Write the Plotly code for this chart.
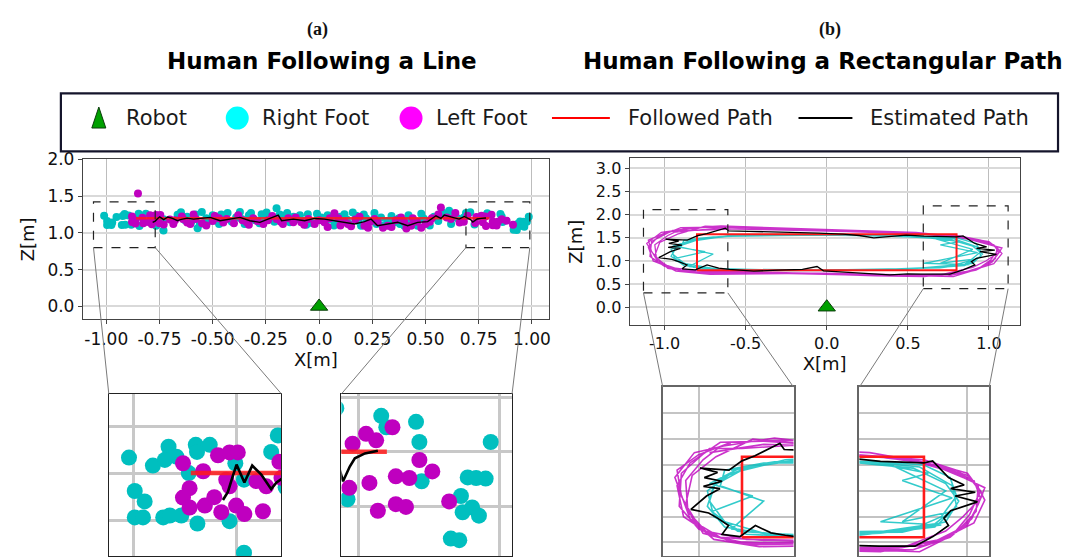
import plotly.graph_objects as go

W, H = 1075, 557

# ---------------- Panel (a): human following a line ----------------
a_right_x = [-1.01, -0.952, -0.914, -0.911, -0.895, -0.923, -0.848, -0.845, -0.814, -0.865, -0.996, -0.972,
             -0.996, -0.976, -0.927, -0.911, -0.883, -0.844, -0.766, -0.752, -0.731, -0.731, -0.665, -0.649,
             -0.62, -0.60, -0.571, -0.551, -0.53, -0.512, -0.481, -0.46, -0.442, -0.41, -0.39, -0.372, -0.364,
             -0.33, -0.30, -0.27, -0.247, -0.225, -0.20, -0.185, -0.168, -0.137, -0.12, -0.10, -0.075, -0.053,
             -0.03, 0.01, 0.03, 0.057, 0.088, 0.119, 0.14, 0.158, 0.174, 0.185, 0.197, 0.22, 0.244, 0.27, 0.291,
             0.32, 0.354, 0.375, 0.40, 0.43, 0.463, 0.49, 0.51, 0.54, 0.58, 0.60, 0.611, 0.635, 0.65, 0.666, 0.69,
             0.730, 0.790, 0.799, 0.852, 0.858, 0.985, 0.862, 0.932, 0.944, 0.959, 0.976, 0.935, 0.952, 0.964,
             0.914, 0.929,
             -0.63, -0.58, -0.56, -0.50, -0.47, -0.43, -0.35, -0.32, -0.28, -0.26, -0.21, -0.15, -0.09, -0.06,
             -0.01, 0.04, 0.07, 0.10, 0.13, 0.21, 0.26, 0.30, 0.34, 0.38, 0.42, 0.45, 0.48, 0.52, 0.56, 0.62,
             0.68, 0.71]
a_right_z = [1.233, 1.216, 1.256, 1.238, 1.235, 1.228, 1.26, 1.245, 1.26, 1.20, 1.162, 1.14,
             1.106, 1.106, 1.106, 1.11, 1.11, 1.093, 1.098, 1.221, 1.186, 1.031, 1.245, 1.28,
             1.22, 1.15, 1.062, 1.285, 1.20, 1.165, 1.165, 1.25, 1.232, 1.15, 1.21, 1.285, 1.187,
             1.24, 1.17, 1.254, 1.276, 1.20, 1.335, 1.25, 1.232, 1.143, 1.22, 1.187, 1.16, 1.254,
             1.13, 1.21, 1.15, 1.187, 1.143, 1.254, 1.12, 1.276, 1.232, 1.16, 1.098, 1.20, 1.165, 1.12, 1.21,
             1.16, 1.143, 1.20, 1.098, 1.15, 1.098, 1.20, 1.165, 1.22, 1.276, 1.24, 1.299, 1.254, 1.20, 1.165, 1.27,
             1.113, 1.266, 1.245, 1.255, 1.218, 1.218, 1.146, 1.119, 1.153, 1.152, 1.151, 1.089, 1.098, 1.083,
             1.041, 1.038,
             1.17, 1.25, 1.12, 1.24, 1.12, 1.27, 1.12, 1.27, 1.13, 1.20, 1.15, 1.27, 1.24, 1.11,
             1.26, 1.24, 1.10, 1.22, 1.18, 1.25, 1.27, 1.10, 1.23, 1.12, 1.24, 1.13, 1.26, 1.10, 1.16, 1.12,
             1.21, 1.28]

a_left_x = [-0.879, -0.83, -0.794, -0.766, -0.746, -0.774, -0.766, -0.863, -0.879, -0.863, -0.826, -0.803,
            -0.786, -0.75, -0.73, -0.685, -0.701, -0.677, -0.645, -0.851,
            -0.62, -0.605, -0.58, -0.55, -0.50, -0.47, -0.434, -0.40, -0.36, -0.34, -0.31, -0.262, -0.24, -0.20,
            -0.17, -0.145, -0.121, -0.084, -0.05, -0.021, 0.025, 0.05, 0.072, 0.10, 0.135, 0.17, 0.213, 0.24,
            0.275, 0.30, 0.322, 0.36, 0.385, 0.41, 0.432, 0.46, 0.50, 0.53, 0.572, 0.60, 0.619, 0.66, 0.697,
            0.733, 0.739, 0.763, 0.781, 0.810, 0.769, 0.816, 0.84, 0.858, 0.881, 0.784, 0.816, 0.834, 0.911,
            -0.64, -0.59, -0.53, -0.49, -0.45, -0.38, -0.33, -0.29, -0.22, -0.18, -0.11, -0.07, 0.0, 0.04,
            0.09, 0.12, 0.15, 0.19, 0.23, 0.26, 0.34, 0.40, 0.44, 0.48, 0.52, 0.56, 0.64, 0.68]
a_left_z = [1.221, 1.204, 1.238, 1.244, 1.244, 1.186, 1.172, 1.168, 1.148, 1.127, 1.131, 1.149,
            1.117, 1.131, 1.113, 1.119, 1.183, 1.172, 1.224, 1.535,
            1.14, 1.121, 1.19, 1.13, 1.16, 1.20, 1.187, 1.13, 1.17, 1.143, 1.20, 1.121, 1.17, 1.187,
            1.12, 1.20, 1.143, 1.143, 1.19, 1.121, 1.143, 1.20, 1.267, 1.10, 1.121, 1.18, 1.098, 1.15,
            1.143, 1.07, 1.098, 1.17, 1.21, 1.06, 1.098, 1.15, 1.12, 1.20, 1.343, 1.21, 1.187, 1.14, 1.232,
            1.134, 1.215, 1.233, 1.221, 1.245, 1.143, 1.155, 1.152, 1.185, 1.164, 1.092, 1.104, 1.099, 1.109,
            1.19, 1.25, 1.10, 1.23, 1.14, 1.24, 1.11, 1.16, 1.23, 1.15, 1.21, 1.11, 1.17, 1.08,
            1.20, 1.15, 1.09, 1.22, 1.07, 1.19, 1.08, 1.15, 1.20, 1.07, 1.15, 1.25, 1.27, 1.15]

a_est_x = [-0.782, -0.770, -0.758, -0.749, -0.73, -0.711, -0.689, -0.665, -0.652, -0.62, -0.59, -0.55,
           -0.512, -0.465, -0.419, -0.372, -0.325, -0.278, -0.231, -0.192, -0.176, -0.121, -0.068, -0.021,
           0.025, 0.072, 0.119, 0.166, 0.213, 0.244, 0.275, 0.322, 0.369, 0.416, 0.463, 0.51, 0.549, 0.572,
           0.588, 0.627, 0.658, 0.682, 0.713, 0.722, 0.734, 0.743, 0.761, 0.784]
a_est_z = [1.143, 1.16, 1.194, 1.218, 1.18, 1.216, 1.197, 1.166, 1.18, 1.20, 1.187, 1.20,
           1.21, 1.165, 1.187, 1.21, 1.165, 1.143, 1.196, 1.241, 1.165, 1.187, 1.165, 1.196,
           1.187, 1.165, 1.143, 1.121, 1.152, 1.187, 1.098, 1.121, 1.143, 1.098, 1.143, 1.152, 1.232, 1.196,
           1.241, 1.21, 1.187, 1.223, 1.178, 1.146, 1.173, 1.188, 1.197, 1.202]

a_path_x = [-0.86, 0.80]
a_path_z = [1.20, 1.20]

# ---------------- Panel (b): human following a rectangle ----------------
b_left_x = [-0.95, -0.7, -0.4, -0.1, 0.2, 0.5, 0.8, 0.95, 1.05, 1.04, 0.95, 0.8, 0.5, 0.2, -0.1, -0.4, -0.7, -0.9, -1.02, -1.08, -1.1, -1.0,
            -0.85, -0.6, -0.3, 0.0, 0.3, 0.6, 0.85, 1.0, 1.07, 1.02, 0.92, 0.75, 0.45, 0.15, -0.15, -0.45, -0.75, -0.95, -1.05, -1.06, -0.98,
            -0.9, -0.65, -0.35, -0.05, 0.25, 0.55, 0.82, 0.98, 1.08, 1.05, 1.0, 0.85, 0.6, 0.3, 0.0, -0.3, -0.6, -0.85, -1.0, -1.09, -1.08, -0.95,
            -0.8, -0.5, -0.2, 0.1, 0.4, 0.7, 0.9, 1.03, 1.06, 0.98, 0.9, 0.7, 0.4, 0.1, -0.2, -0.5, -0.78, -0.97, -1.07, -1.1, -1.04, -0.9,
            -0.7, -0.45, -0.15, 0.15, 0.45, 0.75, 0.92, 1.04, 1.08, 1.03, 0.88, 0.65, 0.35, 0.05, -0.25, -0.55, -0.8, -0.98, -1.06, -1.03, -0.92,
            -0.75, -0.5, -0.25, 0.05, 0.35, 0.65, 0.88, 1.0, 1.06, 1.01, 0.93, 0.78, 0.5, 0.2, -0.1, -0.4, -0.72, -0.93, -1.04, -1.11, -1.02, -0.85]
b_left_z = [1.62, 1.70, 1.68, 1.66, 1.63, 1.60, 1.55, 1.45, 1.30, 1.05, 0.85, 0.72, 0.70, 0.72, 0.74, 0.76, 0.77, 0.80, 0.95, 1.20, 1.45, 1.60,
            1.72, 1.74, 1.70, 1.67, 1.62, 1.58, 1.50, 1.40, 1.22, 0.98, 0.80, 0.68, 0.67, 0.70, 0.72, 0.74, 0.73, 0.82, 1.05, 1.35, 1.55,
            1.68, 1.76, 1.72, 1.69, 1.65, 1.62, 1.52, 1.38, 1.28, 1.12, 0.92, 0.76, 0.66, 0.68, 0.71, 0.75, 0.74, 0.76, 0.88, 1.10, 1.42, 1.66,
            1.66, 1.70, 1.67, 1.64, 1.60, 1.56, 1.47, 1.35, 1.18, 1.00, 0.86, 0.70, 0.69, 0.73, 0.74, 0.77, 0.78, 0.86, 1.00, 1.30, 1.52, 1.72,
            1.73, 1.72, 1.68, 1.65, 1.61, 1.54, 1.44, 1.32, 1.16, 0.94, 0.78, 0.69, 0.70, 0.72, 0.73, 0.75, 0.74, 0.84, 1.12, 1.40, 1.58,
            1.75, 1.73, 1.70, 1.66, 1.63, 1.57, 1.49, 1.42, 1.25, 1.02, 0.82, 0.66, 0.68, 0.71, 0.73, 0.72, 0.71, 0.78, 0.98, 1.38, 1.62, 1.70]

b_right_x = [-0.85, -0.6, -0.3, 0.0, 0.3, 0.6, 0.8, 0.92, 0.95, 0.88, 0.75, 0.5, 0.2, -0.1, -0.4, -0.7, -0.88, -0.95, -0.92,
             -0.75, -0.45, -0.15, 0.15, 0.45, 0.65, 0.9, 0.7, 0.93, 0.85, 0.6, 0.3, 0.0, -0.3, -0.6, -0.85, -0.7, -0.9, -0.88,
             -0.7, -0.4, -0.1, 0.2, 0.5, 0.75, 0.9, 0.96, 0.9, 0.7, 0.4, 0.1, -0.2, -0.5, -0.78, -0.93, -0.96, -0.85,
             -0.6, -0.3, 0.0, 0.3, 0.6, 0.82, 0.7, 0.93, 0.6, 0.88, 0.65, 0.35, 0.05, -0.25, -0.55, -0.82, -0.94, -0.75, -0.95, -0.8,
             -0.65, -0.35, -0.05, 0.25, 0.55, 0.78, 0.93, 0.95, 0.85, 0.55, 0.25, -0.05, -0.35, -0.65, -0.88, -0.96, -0.93, -0.8]
b_right_z = [1.45, 1.53, 1.55, 1.56, 1.55, 1.53, 1.50, 1.38, 1.20, 1.00, 0.88, 0.82, 0.80, 0.80, 0.81, 0.84, 0.95, 1.15, 1.35,
             1.50, 1.56, 1.57, 1.56, 1.54, 1.50, 1.25, 0.95, 1.05, 0.90, 0.84, 0.81, 0.79, 0.80, 0.82, 0.88, 1.15, 1.30, 1.45,
             1.52, 1.55, 1.56, 1.55, 1.52, 1.47, 1.32, 1.15, 0.95, 0.85, 0.83, 0.81, 0.79, 0.80, 0.83, 1.00, 1.25, 1.42,
             1.55, 1.58, 1.57, 1.56, 1.51, 1.42, 1.35, 1.18, 0.95, 0.92, 0.86, 0.82, 0.80, 0.81, 0.82, 0.86, 1.05, 1.20, 1.32, 1.48,
             1.53, 1.56, 1.57, 1.55, 1.53, 1.48, 1.30, 1.10, 0.93, 0.84, 0.82, 0.80, 0.80, 0.82, 0.90, 1.10, 1.30, 1.45]

b_est_x = [-0.994, -0.86, -0.80, -0.74, -0.625, -0.605, -0.48, -0.35, -0.20, -0.05, 0.10, 0.20, 0.29, 0.40, 0.49, 0.60, 0.70, 0.80, 0.84,
           0.913, 0.985, 0.923, 1.036, 0.944, 1.046, 0.923, 0.892, 0.913, 0.841, 0.759,
           0.594, 0.50, 0.389, 0.30, 0.184, 0.10, -0.02, -0.06, -0.15, -0.30, -0.45, -0.60, -0.666, -0.738,
           -0.81, -0.892, -0.862, -0.913, -0.954, -1.036, -0.964, -0.902, -0.978, -0.892, -0.974, -0.913, -0.994]
b_est_z = [1.47, 1.45, 1.54, 1.59, 1.71, 1.65, 1.64, 1.63, 1.62, 1.60, 1.58, 1.55, 1.50, 1.53, 1.56, 1.535, 1.53, 1.52, 1.54,
           1.378, 1.307, 1.271, 1.236, 1.20, 1.143, 1.057, 0.986, 0.914, 0.807, 0.714,
           0.714, 0.72, 0.70, 0.72, 0.736, 0.75, 0.786, 0.88, 0.82, 0.80, 0.78, 0.82, 0.843, 0.914,
           0.807, 0.829, 0.914, 0.986, 1.036, 1.071, 1.20, 1.271, 1.293, 1.343, 1.378, 1.428, 1.471]

b_path_x = [-0.80, 0.80, 0.80, -0.80, -0.80]
b_path_z = [0.80, 0.80, 1.58, 1.58, 0.80]

robot_x = [0.0]
robot_z = [0.0]

# tick labels
a_xticks = [-1.0, -0.75, -0.5, -0.25, 0.0, 0.25, 0.5, 0.75, 1.0]
a_xtext = ["-1.00", "-0.75", "-0.50", "-0.25", "0.0", "0.25", "0.50", "0.75", "1.00"]
a_yticks = [0.0, 0.5, 1.0, 1.5, 2.0]
a_ytext = ["0.0", "0.5", "1.0", "1.5", "2.0"]
b_xticks = [-1.0, -0.5, 0.0, 0.5, 1.0]
b_xtext = ["-1.0", "-0.5", "0.0", "0.5", "1.0"]
b_yticks = [0.0, 0.5, 1.0, 1.5, 2.0, 2.5, 3.0]
b_ytext = ["0.0", "0.5", "1.0", "1.5", "2.0", "2.5", "3.0"]

# ---------------- colours ----------------
CYAN = "#00bfbf"
MAG = "#bf00bf"
RED = "#ff1a1a"
GREEN = "#00a000"
FONT = "DejaVu Sans"

# ---------------- layout geometry (pixels) ----------------
def xdom(p0, p1):
    return [p0 / W, p1 / W]

def ydom(top, bottom):
    return [1 - bottom / H, 1 - top / H]

AX = {
    "1": dict(xd=xdom(83, 550), yd=ydom(152, 315), xr=[-1.11, 1.08], yr=[-0.175, 2.0]),
    "2": dict(xd=xdom(630.7, 1021.7), yd=ydom(151, 321), xr=[-1.216, 1.19], yr=[-0.39, 3.22]),
    "3": dict(xd=xdom(109, 282), yd=ydom(391, 556), xr=[-1.059, -0.640], yr=[1.024, 1.368]),
    "4": dict(xd=xdom(342, 513), yd=ydom(391, 556), xr=[0.719, 1.023], yr=[1.009, 1.306]),
    "5": dict(xd=xdom(664, 795), yd=ydom(384, 556), xr=[-1.166, -0.562], yr=[0.619, 2.254]),
    "6": dict(xd=xdom(861, 991), yd=ydom(384, 556), xr=[0.503, 1.10], yr=[0.619, 2.254]),
}

def refs(k):
    return ("x", "y") if k == "1" else ("x" + k, "y" + k)

fig = go.Figure()

def add(k, **kw):
    xr, yr = refs(k)
    fig.add_trace(go.Scatter(xaxis=xr, yaxis=yr, showlegend=False, hoverinfo="skip", **kw))

# panel (a) main + insets
for k, ms, rw, bw in [("1", 8, 2.5, 1.4), ("3", 16, 4.5, 2.6), ("4", 16, 4.5, 2.6)]:
    add(k, x=a_right_x, y=a_right_z, mode="markers", marker=dict(color=CYAN, size=ms, line_width=0), name="Right Foot")
    add(k, x=a_left_x, y=a_left_z, mode="markers", marker=dict(color=MAG, size=ms, line_width=0), name="Left Foot")
    add(k, x=a_path_x, y=a_path_z, mode="lines", line=dict(color=RED, width=rw), opacity=0.85, name="Followed Path")
    add(k, x=a_est_x, y=a_est_z, mode="lines", line=dict(color="black", width=bw), name="Estimated Path")
add("1", x=robot_x, y=robot_z, mode="markers",
    marker=dict(symbol="triangle-up", size=15, color=GREEN, line=dict(color="#0a3d0a", width=1)), name="Robot")

# panel (b) main + insets
for k, lw, rw, bw in [("2", 1.3, 2.0, 1.3), ("5", 1.6, 2.6, 1.7), ("6", 1.6, 2.6, 1.7)]:
    add(k, x=b_left_x, y=b_left_z, mode="lines", line=dict(color=MAG, width=lw), opacity=0.8, name="Left Foot")
    add(k, x=b_right_x, y=b_right_z, mode="lines", line=dict(color=CYAN, width=lw), opacity=0.8, name="Right Foot")
    add(k, x=b_path_x, y=b_path_z, mode="lines", line=dict(color=RED, width=rw), name="Followed Path")
    add(k, x=b_est_x, y=b_est_z, mode="lines", line=dict(color="black", width=bw), name="Estimated Path")
add("2", x=robot_x, y=robot_z, mode="markers",
    marker=dict(symbol="triangle-up", size=15, color=GREEN, line=dict(color="#0a3d0a", width=1)), name="Robot")

# ---------------- axes ----------------
layout_axes = {}
for k, g in AX.items():
    xn = "xaxis" if k == "1" else "xaxis" + k
    yn = "yaxis" if k == "1" else "yaxis" + k
    xr, yr = refs(k)
    main = k in ("1", "2")
    if main:
        xt = dict(tickvals=a_xticks, ticktext=a_xtext) if k == "1" else dict(tickvals=b_xticks, ticktext=b_xtext)
        yt = dict(tickvals=a_yticks, ticktext=a_ytext) if k == "1" else dict(tickvals=b_yticks, ticktext=b_ytext)
        tfs = 17 if k == "1" else 16
        layout_axes[xn] = dict(domain=g["xd"], range=g["xr"], anchor=yr, showgrid=True, gridcolor="#bdbdbd",
                               gridwidth=1, zeroline=False, showline=True, mirror=True, linecolor="#444",
                               linewidth=1, ticks="outside", ticklen=4, tickcolor="#444", tickangle=0,
                               tickfont=dict(size=tfs, color="#111"),
                               title=dict(text="X[m]", font=dict(size=18, color="#111"), standoff=4), **xt)
        layout_axes[yn] = dict(domain=g["yd"], range=g["yr"], anchor=xr, showgrid=True, gridcolor="#d9d9d9",
                               gridwidth=2, zeroline=False, showline=True, mirror=True, linecolor="#444",
                               linewidth=1, ticks="outside", ticklen=4, tickcolor="#444",
                               tickfont=dict(size=tfs, color="#111"),
                               title=dict(text="Z[m]", font=dict(size=18, color="#111"), standoff=8), **yt)
    else:
        is_a = k in ("3", "4")
        gc = "#c8c8c8" if is_a else "#c4c4c4"
        gw = 2.5 if is_a else 1.5
        bc = "#222" if is_a else "#666"
        bwid = 1.2 if is_a else 1.6
        layout_axes[xn] = dict(domain=g["xd"], range=g["xr"], anchor=yr, showgrid=True, gridcolor=gc, gridwidth=gw,
                               dtick=0.25 if is_a else 0.5, tick0=0, zeroline=False, showticklabels=False,
                               ticks="", showline=True, mirror=True, linecolor=bc, linewidth=bwid)
        layout_axes[yn] = dict(domain=g["yd"], range=g["yr"], anchor=xr, showgrid=True, gridcolor=gc, gridwidth=gw,
                               dtick=0.1 if is_a else 0.25, tick0=0, zeroline=False, showticklabels=False,
                               ticks="", showline=True, mirror=True, linecolor=bc, linewidth=bwid)

# ---------------- zoom rectangles & connectors ----------------
zoom_boxes = [  # (main axis, inset axis, x0, x1, y0, y1)
    ("1", "3", -1.06, -0.77, 0.80, 1.42),
    ("1", "4", 0.69, 0.99, 0.80, 1.42),
    ("2", "5", -1.13, -0.61, 0.31, 2.11),
    ("2", "6", 0.595, 1.118, 0.40, 2.19),
]

def to_paper(k, x, y):
    g = AX[k]
    px = g["xd"][0] + (x - g["xr"][0]) / (g["xr"][1] - g["xr"][0]) * (g["xd"][1] - g["xd"][0])
    py = g["yd"][0] + (y - g["yr"][0]) / (g["yr"][1] - g["yr"][0]) * (g["yd"][1] - g["yd"][0])
    return px, py

shapes = []
for mk, ik, x0, x1, y0, y1 in zoom_boxes:
    xr, yr = refs(mk)
    shapes.append(dict(type="rect", xref=xr, yref=yr, x0=x0, x1=x1, y0=y0, y1=y1,
                       line=dict(color="#222", width=1.2, dash="dash"), layer="above"))
    for cx, side in ((x0, 0), (x1, 1)):
        sx, sy = to_paper(mk, cx, y0)
        ex = AX[ik]["xd"][side]
        ey = AX[ik]["yd"][1]
        shapes.append(dict(type="line", xref="paper", yref="paper", x0=sx, y0=sy, x1=ex, y1=ey,
                           line=dict(color="#7a7a7a", width=1)))

# ---------------- legend (drawn in a framed strip) ----------------
LEG_Y = 1 - 110 / H
shapes.append(dict(type="rect", xref="paper", yref="paper", x0=61 / W, x1=1060 / W, y0=1 - 144 / H, y1=1 - 85 / H,
                   line=dict(color="#14142b", width=2.2), fillcolor="white", layer="below"))
shapes.append(dict(type="path", xref="paper", yref="paper", xsizemode="pixel", ysizemode="pixel",
                   xanchor=99 / W, yanchor=LEG_Y, path="M -7 -10 L 7 -10 L 0 11 Z",
                   fillcolor=GREEN, line=dict(color="#0a3d0a", width=1)))
for cx, col in ((237.7, "#00ffff"), (411.8, "#ff00ff")):
    shapes.append(dict(type="circle", xref="paper", yref="paper", xsizemode="pixel", ysizemode="pixel",
                       xanchor=cx / W, yanchor=LEG_Y, x0=-11.5, x1=11.5, y0=-11.5, y1=11.5,
                       fillcolor=col, line=dict(width=0)))
for xa, xb, col in ((553, 611, "#ff0000"), (800, 854, "black")):
    shapes.append(dict(type="line", xref="paper", yref="paper", x0=xa / W, x1=xb / W, y0=LEG_Y, y1=LEG_Y,
                       line=dict(color=col, width=2)))

annotations = []
for tx, xpx in (("Robot", 124), ("Right Foot", 260.5), ("Left Foot", 435), ("Followed Path", 627),
                ("Estimated Path", 870)):
    annotations.append(dict(text=tx, x=xpx / W, y=LEG_Y, xref="paper", yref="paper", xanchor="left",
                            yanchor="middle", showarrow=False, font=dict(family=FONT, size=21, color="#1a1a1a")))

for tx, cx in (("(a)", 318), ("(b)", 831.5)):
    annotations.append(dict(text="<b>" + tx + "</b>", x=cx / W, y=1 - 20 / H, xref="paper", yref="paper",
                            xanchor="center", yanchor="middle", showarrow=False,
                            font=dict(family="Liberation Serif", size=18, color="#111")))
for tx, cx in (("Human Following a Line", 323), ("Human Following a Rectangular Path", 824.6)):
    annotations.append(dict(text="<b>" + tx + "</b>", x=cx / W, y=1 - 52 / H, xref="paper", yref="paper",
                            xanchor="center", yanchor="middle", showarrow=False,
                            font=dict(family=FONT, size=23, color="#000")))

fig.update_layout(
    width=W, height=H, margin=dict(l=0, r=0, t=0, b=0, pad=0),
    paper_bgcolor="white", plot_bgcolor="white",
    font=dict(family=FONT, color="#111"),
    showlegend=False, shapes=shapes, annotations=annotations,
    **layout_axes,
)

fig.write_html("out.html")
